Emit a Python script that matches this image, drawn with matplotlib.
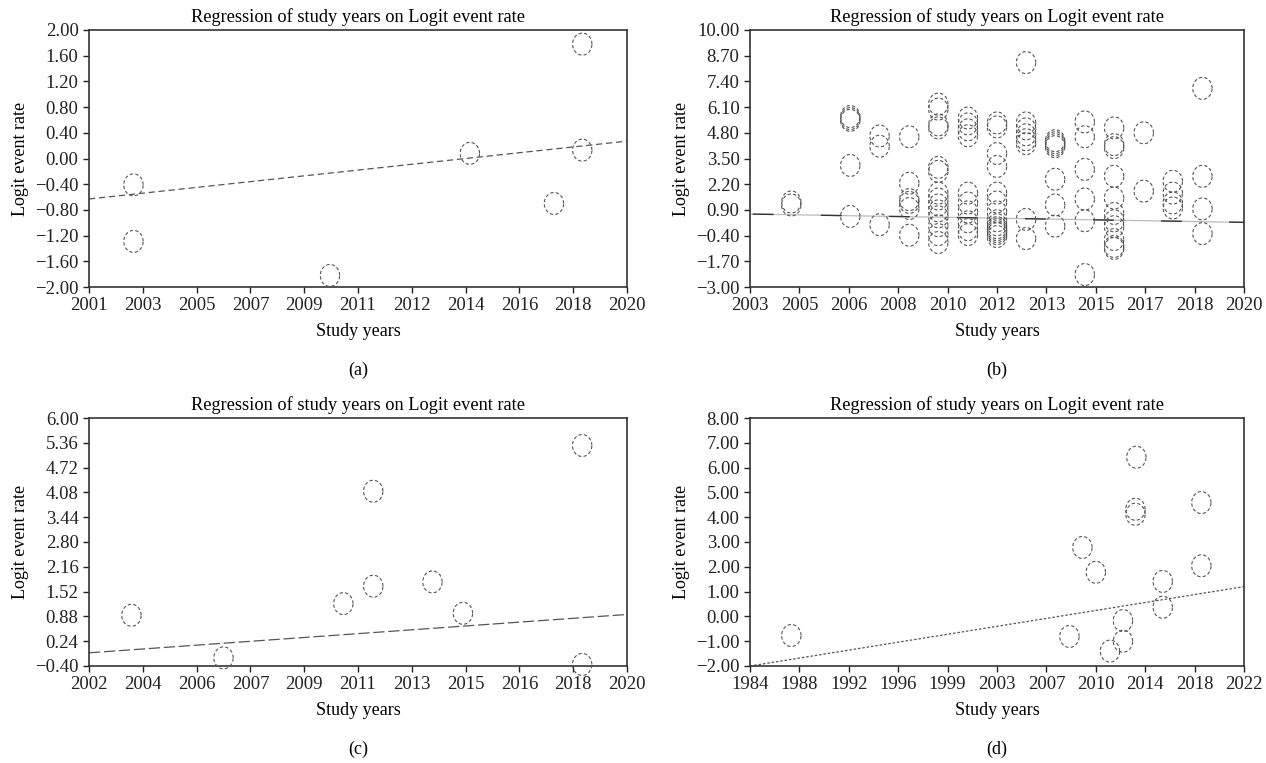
import numpy as np
import matplotlib
matplotlib.use("Agg")
import matplotlib.pyplot as plt
from matplotlib.path import Path

plt.rcParams['font.family'] = ['Liberation Serif', 'DejaVu Serif']
plt.rcParams['axes.unicode_minus'] = True

# panel (a)
a_year = [2002.57, 2002.57, 2009.51, 2014.45, 2017.42, 2018.42, 2018.42]
a_logit = [-0.41, -1.29, -1.82, 0.08, -0.70, 1.78, 0.13]
a_fit_x = [2001, 2020]
a_fit_y = [-0.63, 0.27]
a_xlabels = ['2001', '2003', '2005', '2007', '2009', '2011', '2012', '2014', '2016', '2018', '2020']

# panel (b): one list of logit values per study-year column
b_cols = [2004.42, 2006.45, 2007.46, 2008.48, 2009.48, 2010.5, 2011.5,
          2012.5, 2013.5, 2014.52, 2015.53, 2016.55, 2017.55, 2018.57]
b_vals = [
    [1.30, 1.15],
    [5.62, 5.52, 5.43, 3.15, 0.57],
    [4.64, 4.12, 0.15],
    [4.60, 2.25, 1.42, 1.28, 0.97, -0.38],
    [6.25, 6.00, 5.20, 5.05, 3.05, 2.85, 1.75, 1.45, 1.15, 0.85, 0.55, 0.10, -0.35, -0.75],
    [5.55, 5.25, 4.95, 4.65, 1.75, 1.25, 0.80, 0.30, -0.10, -0.35],
    [5.30, 5.10, 3.75, 3.10, 1.75, 1.30, 0.80, 0.35, 0.15, 0.00, -0.10, -0.20, -0.30, -0.45],
    [8.35, 5.30, 5.00, 4.70, 4.45, 4.25, 0.42, -0.55],
    [4.40, 4.30, 4.20, 4.10, 2.45, 1.15, 0.08],
    [5.35, 4.60, 2.95, 1.45, 0.35, -2.37],
    [5.05, 4.20, 4.05, 2.60, 1.50, 0.72, 0.35, 0.05, -0.60, -0.95, -1.05],
    [4.80, 1.85],
    [2.35, 1.75, 1.25, 1.00],
    [7.05, 2.60, 0.95, -0.30],
]
b_fit_x = [2003, 2020]
b_fit_y = [0.69, 0.27]
b_xlabels = ['2003', '2005', '2006', '2008', '2010', '2012', '2013', '2015', '2017', '2018', '2020']

# panel (c)
c_year = [2003.42, 2006.50, 2010.51, 2011.51, 2011.51, 2013.49, 2014.51, 2018.50, 2018.50]
c_logit = [0.91, -0.19, 1.21, 1.66, 4.11, 1.77, 0.96, 5.29, -0.36]
c_fit_x = [2002, 2020]
c_fit_y = [-0.06, 0.93]
c_xlabels = ['2002', '2004', '2006', '2007', '2009', '2011', '2013', '2015', '2016', '2018', '2020']

# panel (d)
d_year = [1987.18, 2008.57, 2009.57, 2010.60, 2011.69, 2012.69, 2012.69,
          2013.72, 2013.65, 2013.65, 2015.75, 2015.75, 2018.72, 2018.72]
d_logit = [-0.77, -0.81, 2.78, 1.78, -1.40, -0.17, -1.00,
           6.42, 4.32, 4.12, 1.41, 0.37, 4.59, 2.04]
d_fit_x = [1984, 2022]
d_fit_y = [-2.0, 1.2]
d_xlabels = ['1984', '1988', '1992', '1996', '1999', '2003', '2007', '2010', '2014', '2018', '2022']

b_year = [x for x, vals in zip(b_cols, b_vals) for _ in vals]
b_logit = [v for vals in b_vals for v in vals]

# slightly tall ellipse used as the study marker
t = np.linspace(0, 2 * np.pi, 80)
ell = Path(np.column_stack([0.88 * np.cos(t), np.sin(t)]), closed=True)

fig = plt.figure(figsize=(12.66, 7.63), dpi=100)

W, H = 1266, 763
def box(l, r, top, bot):
    return [l / W, 1 - bot / H, (r - l) / W, (bot - top) / H]

panels = [
    (box(89, 627, 30, 287), a_year, a_logit, a_fit_x, a_fit_y, (2001, 2020), (-2.0, 2.0), a_xlabels,
     dict(color='#555555', lw=0.9, ls=(0, (5, 3))), '(a)'),
    (box(750, 1244, 30, 287), b_year, b_logit, b_fit_x, b_fit_y, (2003, 2020), (-3.0, 10.0), b_xlabels,
     None, '(b)'),
    (box(89, 627, 418, 666), c_year, c_logit, c_fit_x, c_fit_y, (2002, 2020), (-0.4, 6.0), c_xlabels,
     dict(color='#555555', lw=0.9, ls=(0, (9, 3))), '(c)'),
    (box(750, 1244, 418, 666), d_year, d_logit, d_fit_x, d_fit_y, (1984, 2022), (-2.0, 8.0), d_xlabels,
     dict(color='#555555', lw=0.9, ls=(0, (2, 1.5))), '(d)'),
]

for rect, xs, ys, fx, fy, xlim, ylim, xlabels, fitstyle, tag in panels:
    ax = fig.add_axes(rect)
    ax.scatter(xs, ys, s=250, marker=ell, facecolors='none', edgecolors='#555555',
               linewidths=0.8, linestyles=(0, (3, 2)), clip_on=False, zorder=3)
    if fitstyle is None:
        # panel (b): faint line with darker dash segments on top
        ax.plot(fx, fy, color='#bbbbbb', lw=0.9, zorder=2)
        ax.plot(fx, fy, color='#333333', lw=1.0, ls=(-2, (15, 34)), zorder=2)
    else:
        ax.plot(fx, fy, zorder=2, **fitstyle)
    ax.set_xlim(*xlim)
    ax.set_ylim(*ylim)
    ax.set_xticks(np.linspace(xlim[0], xlim[1], 11))
    ax.set_xticklabels(xlabels)
    yt = np.linspace(ylim[0], ylim[1], 11)
    ax.set_yticks(yt)
    ax.set_yticklabels([f'{v:.2f}'.replace('-', '\u2212') for v in yt])
    ax.tick_params(direction='out', length=4, width=1, labelsize=13.5, colors='#222222')
    for sp in ax.spines.values():
        sp.set_linewidth(1.2)
        sp.set_color('#333333')
    ax.set_title('Regression of study years on Logit event rate', fontsize=13.2, pad=6)
    ax.set_xlabel('Study years', fontsize=13, labelpad=6)
    ax.set_ylabel('Logit event rate', fontsize=13)
    ax.yaxis.set_label_coords(-60 / (rect[2] * W), 0.5)
    cx = rect[0] + rect[2] / 2
    fig.text(cx, rect[1] - 83 / H, tag, ha='center', va='center', fontsize=13)

fig.savefig('out.png', dpi=100)
